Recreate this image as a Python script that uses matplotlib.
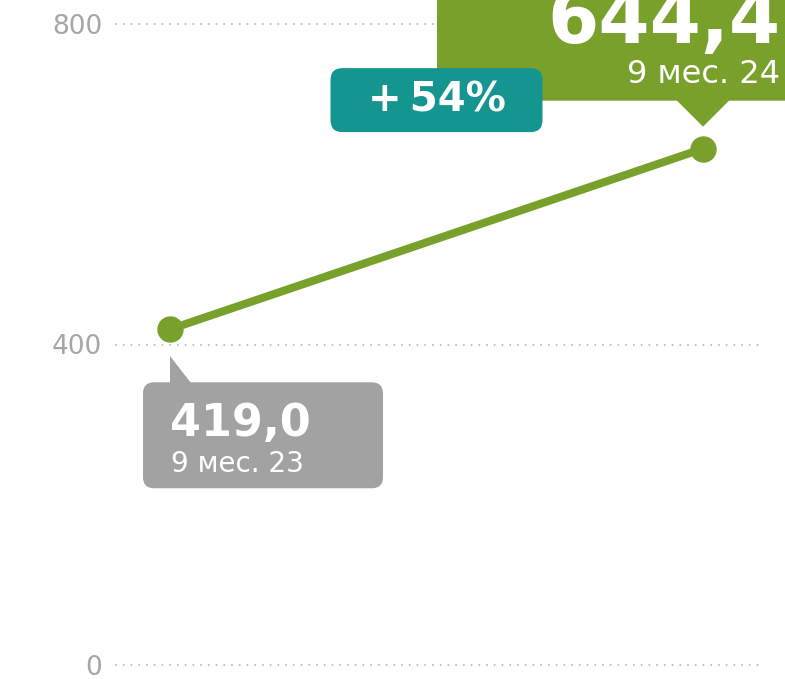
import numpy as np
import matplotlib
matplotlib.use("Agg")
import matplotlib.pyplot as plt
import matplotlib.transforms as mtransforms
from matplotlib.patches import FancyBboxPatch, Polygon

# data
periods = ["9 мес. 23", "9 мес. 24"]
values = [419.0, 644.4]
value_labels = ["419,0", "644,4"]
growth_label = "+\u200954%"
y_ticks = [0, 400, 800]

GREEN = "#7aa02c"
TEAL = "#15958f"
GRAY_BOX = "#a2a2a2"
TICK_GRAY = "#a6a6a6"
GRID_GRAY = "#bcbcbc"

plt.rcParams['font.family'] = ['DejaVu Sans']

W, H = 785, 679
fig = plt.figure(figsize=(W / 100, H / 100), dpi=100)
ax = fig.add_axes([116 / W, 14 / H, (758 - 116) / W, (655 - 14) / H])
ax.set_xlim(-54 / 533, 1 + 55 / 533)
ax.set_ylim(0, 800)

# dotted horizontal grid
for t in y_ticks:
    ax.axhline(t, color=GRID_GRAY, lw=1.5, ls=(0, (0.01, 3.7)),
               dash_capstyle='round', zorder=1, clip_on=False)

ax.set_yticks(y_ticks)
ax.set_yticklabels([str(t) for t in y_ticks])
ax.tick_params(axis='y', length=0, pad=10, labelsize=19, labelcolor=TICK_GRAY)
ax.set_xticks([])
for s in ax.spines.values():
    s.set_visible(False)

# line with dots
x = np.arange(len(values))
ax.plot(x, values, color=GREEN, lw=5.8, solid_capstyle='round', zorder=3)
ax.plot(x, values, 'o', color=GREEN, ms=18, zorder=4)


def px_trans(xd, yd):
    # pixel offsets relative to a data point
    px, py = ax.transData.transform((xd, yd))
    return mtransforms.Affine2D().translate(px, py)


# grey callout for first point
t0 = px_trans(x[0], values[0])
ax.add_patch(FancyBboxPatch((-27, -159), 240, 106,
                            boxstyle="round,pad=0,rounding_size=11",
                            fc=GRAY_BOX, ec='none', transform=t0, zorder=5,
                            clip_on=False))
ax.add_patch(Polygon([(0, -27), (0, -54), (21, -54)], closed=True,
                     fc=GRAY_BOX, ec='none', transform=t0, zorder=5,
                     clip_on=False))
ax.text(0, -107, value_labels[0], transform=t0, color='white', fontsize=32,
        fontweight='bold', ha='left', va='baseline', zorder=6)
ax.text(1, -143, periods[0], transform=t0, color='white', fontsize=20,
        ha='left', va='baseline', zorder=6)

# green callout for second point
t1 = px_trans(x[1], values[1])
ax.add_patch(FancyBboxPatch((-266, 48), 500, 300,
                            boxstyle="round,pad=0,rounding_size=12",
                            fc=GREEN, ec='none', transform=t1, zorder=5,
                            clip_on=False))
ax.add_patch(Polygon([(-27, 49), (27, 49), (0, 22)], closed=True,
                     fc=GREEN, ec='none', transform=t1, zorder=5,
                     clip_on=False))
ax.text(77, 106, value_labels[1], transform=t1, color='white', fontsize=53,
        fontweight='bold', ha='right', va='baseline', zorder=6)
ax.text(77, 66, periods[1], transform=t1, color='white', fontsize=23,
        ha='right', va='baseline', zorder=6)

# growth badge between the points
tb = px_trans(0.5, 705)
ax.add_patch(FancyBboxPatch((-106, -32), 212, 64,
                            boxstyle="round,pad=0,rounding_size=12",
                            fc=TEAL, ec='none', transform=tb, zorder=5,
                            clip_on=False))
ax.text(0, 0, growth_label, transform=tb, color='white', fontsize=29,
        fontweight='bold', ha='center', va='center', zorder=6)

fig.savefig("out.png", dpi=100)
